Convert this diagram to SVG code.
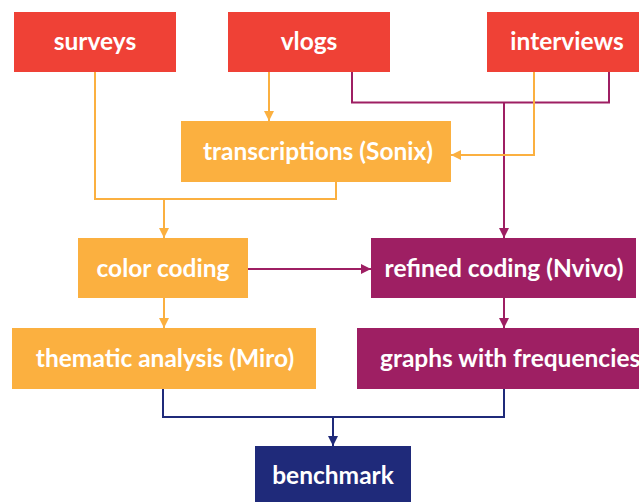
<svg xmlns="http://www.w3.org/2000/svg" width="639" height="502" viewBox="0 0 639 502">
<style>
text{font-family:Lato,"Open Sans","Liberation Sans",sans-serif;font-weight:bold;font-size:24.5px;fill:#fff;text-anchor:middle}
.red{fill:#EF4136}.org{fill:#FBB040}.pur{fill:#9E1F63}.nav{fill:#1F2A7A}
.lo{fill:none;stroke:#FBB040;stroke-width:2}
.lp{fill:none;stroke:#9E1F63;stroke-width:2}
.ln{fill:none;stroke:#1F2A7A;stroke-width:2}
</style>
<defs>
<marker id="ao" markerWidth="10" markerHeight="10" refX="10" refY="5" orient="auto" markerUnits="userSpaceOnUse"><path d="M0,0L10,5L0,10z" fill="#FBB040"/></marker>
<marker id="ap" markerWidth="10" markerHeight="10" refX="10" refY="5" orient="auto" markerUnits="userSpaceOnUse"><path d="M0,0L10,5L0,10z" fill="#9E1F63"/></marker>
<marker id="an" markerWidth="10" markerHeight="10" refX="10" refY="5" orient="auto" markerUnits="userSpaceOnUse"><path d="M0,0L10,5L0,10z" fill="#1F2A7A"/></marker>
</defs>
<g id="connectors">
<path class="lo" d="M95,72V199H336V182"/>
<path class="lo" d="M164,199V238" marker-end="url(#ao)"/>
<path class="lo" d="M269,72V121" marker-end="url(#ao)"/>
<path class="lp" d="M352,72V102.5H609V72"/>
<path class="lp" d="M504,102.5V238" marker-end="url(#ap)"/>
<path class="lo" d="M534,72V155H451" marker-end="url(#ao)"/>
<path class="lp" d="M248,269H371" marker-end="url(#ap)"/>
<path class="lo" d="M164,298V328" marker-end="url(#ao)"/>
<path class="lp" d="M504,298V328" marker-end="url(#ap)"/>
<path class="ln" d="M163,389V417H504V389"/>
<path class="ln" d="M333,417V446" marker-end="url(#an)"/>
</g>
<g id="surveys"><rect class="red" x="14" y="12" width="162" height="60"/><text x="95" y="50">surveys</text></g>
<g id="vlogs"><rect class="red" x="228" y="12" width="162" height="60"/><text x="309" y="50">vlogs</text></g>
<g id="interviews"><rect class="red" x="487" y="12" width="162" height="60"/><text x="567" y="50">interviews</text></g>
<g id="transcriptions"><rect class="org" x="181" y="121" width="270" height="61"/><text x="318" y="160">transcriptions (Sonix)</text></g>
<g id="color-coding"><rect class="org" x="78" y="238" width="170" height="60"/><text x="163" y="277">color coding</text></g>
<g id="refined-coding"><rect class="pur" x="371" y="238" width="265" height="60"/><text x="504" y="277">refined coding (Nvivo)</text></g>
<g id="thematic-analysis"><rect class="org" x="12" y="328" width="304" height="61"/><text x="165" y="367">thematic analysis (Miro)</text></g>
<g id="graphs"><rect class="pur" x="357" y="328" width="294" height="61"/><text x="380" y="367" style="text-anchor:start">graphs with frequencies</text></g>
<g id="benchmark"><rect class="nav" x="255" y="446" width="156" height="56"/><text x="333" y="484">benchmark</text></g>
</svg>
